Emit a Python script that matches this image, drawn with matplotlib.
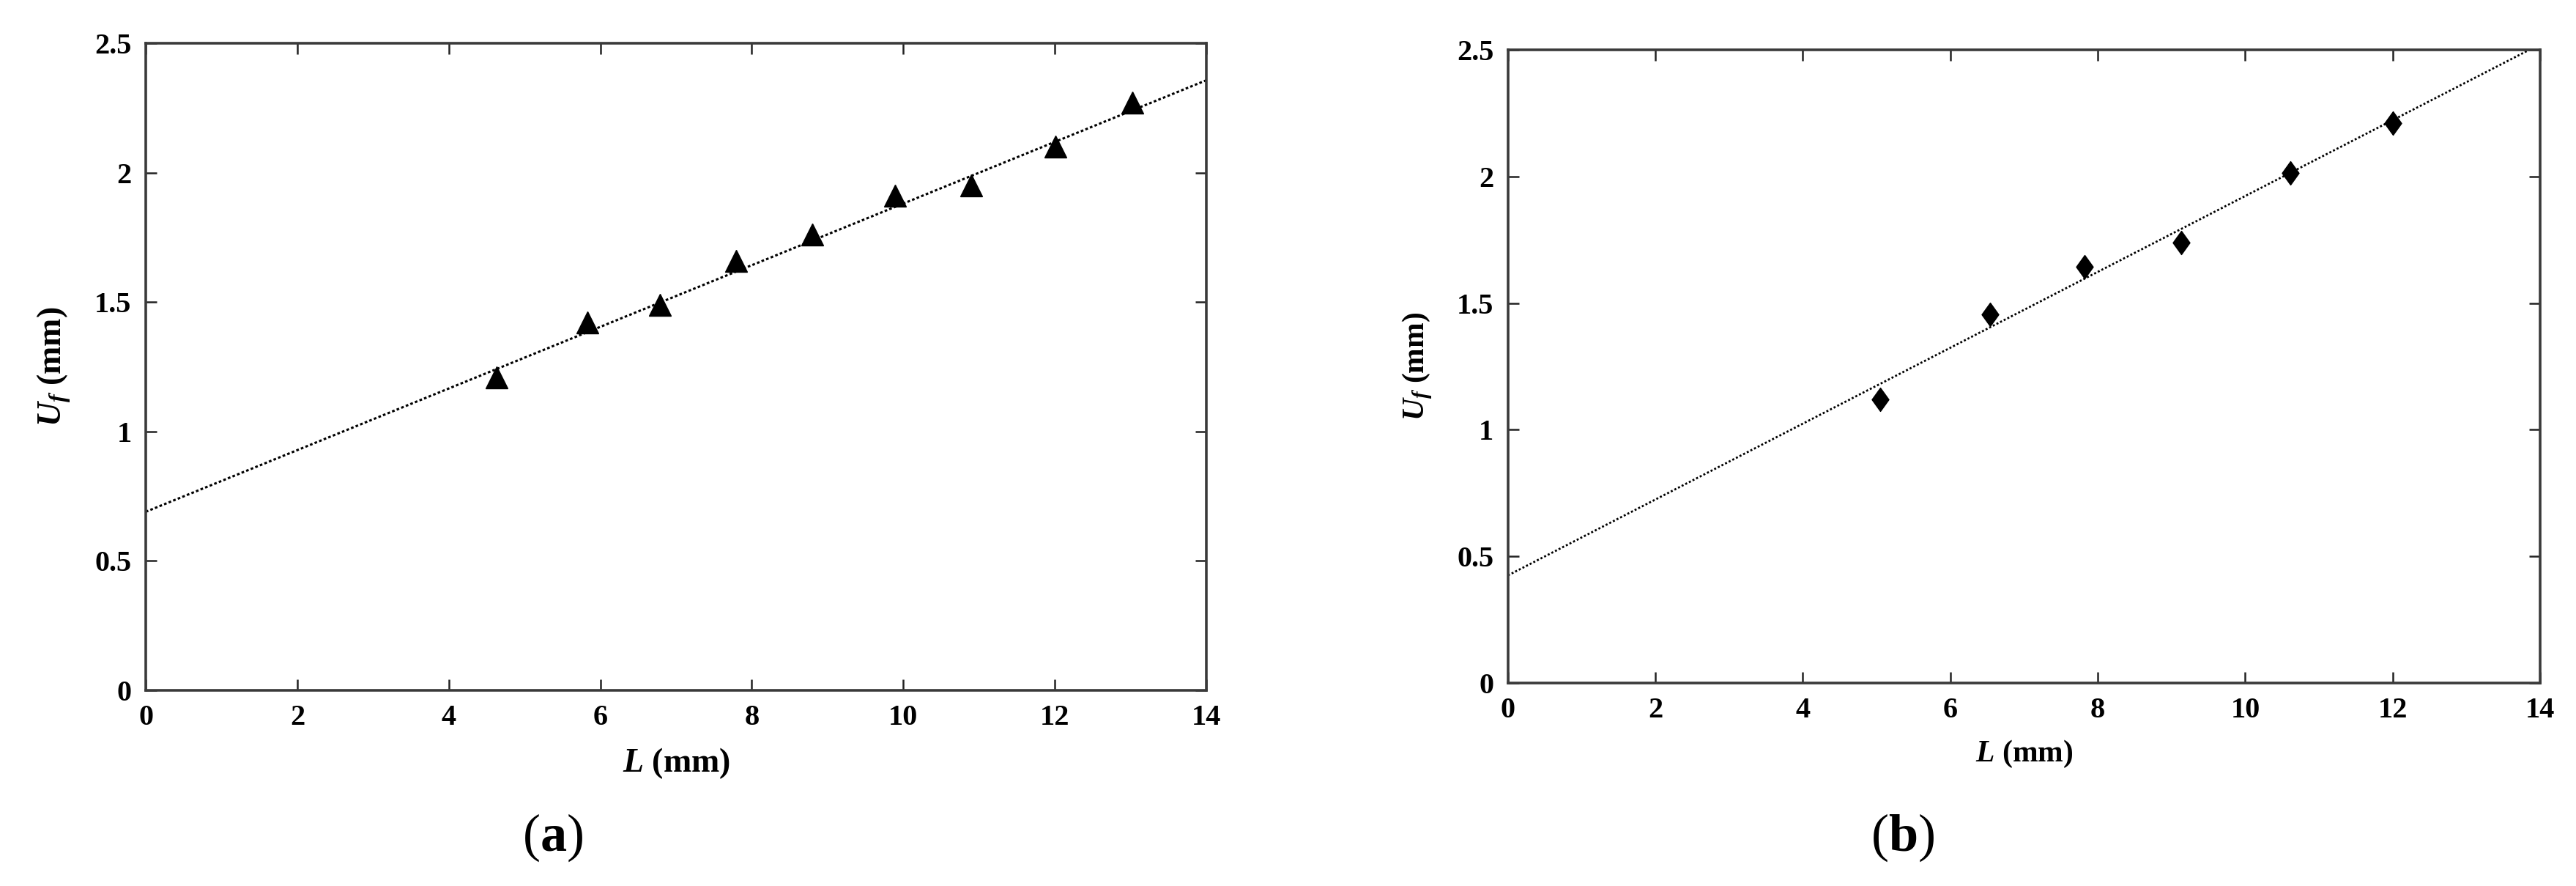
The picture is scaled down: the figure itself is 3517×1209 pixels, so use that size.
import matplotlib
matplotlib.use("Agg")
import matplotlib.pyplot as plt
from matplotlib.path import Path

plt.rcParams['font.family'] = ['Liberation Serif', 'DejaVu Serif']
plt.rcParams['mathtext.fontset'] = 'custom'
plt.rcParams['mathtext.it'] = 'Liberation Serif:italic:bold'
plt.rcParams['mathtext.rm'] = 'Liberation Serif:bold'
plt.rcParams['mathtext.bf'] = 'Liberation Serif:bold'

# (a) measured points and fitted line
L_a = [4.63, 5.83, 6.79, 7.79, 8.80, 9.89, 10.90, 12.01, 13.02]
Uf_a = [1.21, 1.42, 1.49, 1.66, 1.76, 1.91, 1.95, 2.10, 2.27]
fit_x_a = [0, 14]
fit_y_a = [0.69, 2.357]

# (b) measured points and fitted line
L_b = [5.05, 6.54, 7.82, 9.13, 10.61, 12.00]
Uf_b = [1.12, 1.455, 1.643, 1.739, 2.014, 2.21]
fit_x_b = [0, 14]
fit_y_b = [0.425, 2.522]

x_ticks = [0, 2, 4, 6, 8, 10, 12, 14]
y_ticks = [0, 0.5, 1, 1.5, 2, 2.5]
y_tick_labels = ['0', '0.5', '1', '1.5', '2', '2.5']

# tall diamond marker
diamond = Path([(0, 1), (0.72, 0), (0, -1), (-0.72, 0), (0, 1)],
               [Path.MOVETO, Path.LINETO, Path.LINETO, Path.LINETO, Path.CLOSEPOLY])

fig = plt.figure(figsize=(35.17, 12.09), dpi=100)
ax1 = fig.add_axes([0.0566, 0.2208, 0.4117, 0.7304])
ax2 = fig.add_axes([0.5854, 0.2291, 0.4007, 0.7147])


def style_axes(ax, tick_size, label_size):
    ax.set_xlim(0, 14)
    ax.set_ylim(0, 2.5)
    ax.set_xticks(x_ticks)
    ax.set_xticklabels([str(t) for t in x_ticks])
    ax.set_yticks(y_ticks)
    ax.set_yticklabels(y_tick_labels)
    for s in ax.spines.values():
        s.set_color('#3a3a3a')
        s.set_linewidth(2.6)
    ax.tick_params(direction='in', length=11, width=1.8, color='#222222',
                   top=True, right=True, labelsize=tick_size, pad=14)
    for lab in ax.get_xticklabels() + ax.get_yticklabels():
        lab.set_fontweight('bold')
    ax.set_xlabel(r'$L$ (mm)', fontsize=label_size, fontweight='bold', labelpad=14)
    ax.set_ylabel(r'$U_f$ (mm)', fontsize=label_size, fontweight='bold', labelpad=22)


ax1.plot(fit_x_a, fit_y_a, color='black', linestyle=(0, (1.2, 1.0)), linewidth=2.2)
ax1.plot(L_a, Uf_a, linestyle='none', marker='^', markersize=21, color='black')
style_axes(ax1, 29, 33)

ax2.plot(fit_x_b, fit_y_b, color='black', linestyle=(0, (1.0, 1.0)), linewidth=2.0)
ax2.plot(L_b, Uf_b, linestyle='none', marker=diamond, markersize=23, color='black')
style_axes(ax2, 29, 30)

fig.text(755 / 3517, 1 - 1143 / 1209, r'($\mathbf{a}$)', fontsize=52,
         ha='center', va='center')
fig.text(2598 / 3517, 1 - 1143 / 1209, r'($\mathbf{b}$)', fontsize=52,
         ha='center', va='center')

fig.savefig('out.png', dpi=100, facecolor='white')
